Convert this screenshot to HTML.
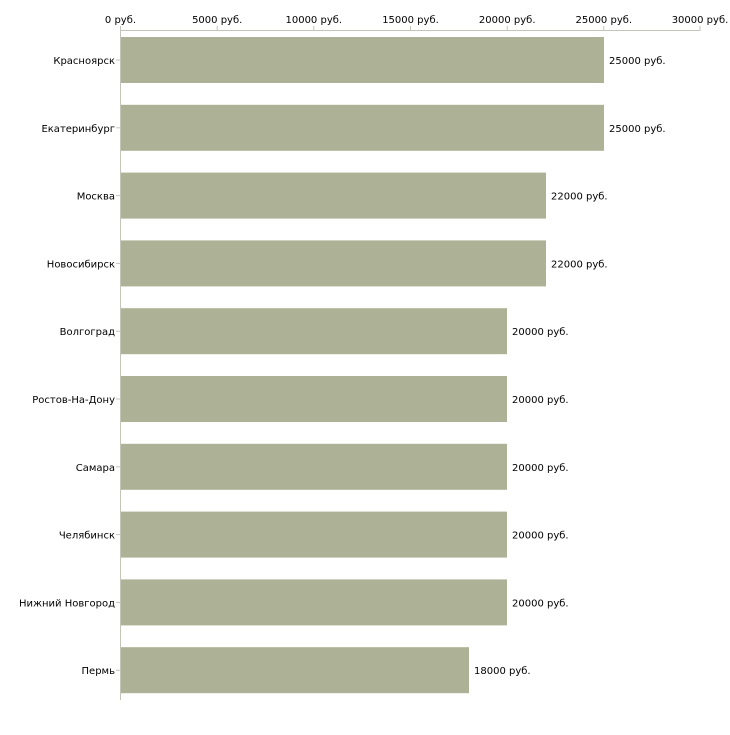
<!DOCTYPE html>
<html><head><meta charset="utf-8"><style>body{margin:0;background:#fff}</style></head><body>
<svg width="730" height="730" xmlns="http://www.w3.org/2000/svg" font-family="DejaVu Sans, sans-serif" font-size="10" fill="#000">
<line x1="120.5" y1="30.5" x2="700" y2="30.5" stroke="#c4c4b8"/>
<line x1="120.5" y1="30" x2="120.5" y2="700" stroke="#c4c4b8"/>
<g stroke="#c4c4b8">
<line x1="120.5" y1="26" x2="120.5" y2="31"/><line x1="217.2" y1="26" x2="217.2" y2="31"/><line x1="313.8" y1="26" x2="313.8" y2="31"/><line x1="410.5" y1="26" x2="410.5" y2="31"/><line x1="507.2" y1="26" x2="507.2" y2="31"/><line x1="603.8" y1="26" x2="603.8" y2="31"/><line x1="700" y1="26" x2="700" y2="31"/>
</g>
<g text-anchor="middle">
<text x="120.5" y="23">0 руб.</text><text x="217.2" y="23">5000 руб.</text><text x="313.8" y="23">10000 руб.</text><text x="410.5" y="23">15000 руб.</text><text x="507.2" y="23">20000 руб.</text><text x="603.8" y="23">25000 руб.</text><text x="700" y="23">30000 руб.</text>
</g>
<g fill="#adb296">
<rect x="121" y="37" width="483" height="46"/>
<rect x="121" y="104.8" width="483" height="46"/>
<rect x="121" y="172.6" width="425" height="46"/>
<rect x="121" y="240.4" width="425" height="46"/>
<rect x="121" y="308.2" width="386" height="46"/>
<rect x="121" y="376" width="386" height="46"/>
<rect x="121" y="443.8" width="386" height="46"/>
<rect x="121" y="511.6" width="386" height="46"/>
<rect x="121" y="579.4" width="386" height="46"/>
<rect x="121" y="647.2" width="348" height="46"/>
</g>
<g stroke="#c4c4b8">
<line x1="116" y1="60" x2="121" y2="60"/><line x1="116" y1="127.8" x2="121" y2="127.8"/><line x1="116" y1="195.6" x2="121" y2="195.6"/><line x1="116" y1="263.4" x2="121" y2="263.4"/><line x1="116" y1="331.2" x2="121" y2="331.2"/><line x1="116" y1="399" x2="121" y2="399"/><line x1="116" y1="466.8" x2="121" y2="466.8"/><line x1="116" y1="534.6" x2="121" y2="534.6"/><line x1="116" y1="602.4" x2="121" y2="602.4"/><line x1="116" y1="670.2" x2="121" y2="670.2"/>
</g>
<g text-anchor="end">
<text x="115" y="64">Красноярск</text><text x="115" y="131.8">Екатеринбург</text><text x="115" y="199.6">Москва</text><text x="115" y="267.4">Новосибирск</text><text x="115" y="335.2">Волгоград</text><text x="115" y="403">Ростов-На-Дону</text><text x="115" y="470.8">Самара</text><text x="115" y="538.6">Челябинск</text><text x="115" y="606.4">Нижний Новгород</text><text x="115" y="674.2">Пермь</text>
</g>
<g>
<text x="609" y="64">25000 руб.</text><text x="609" y="131.8">25000 руб.</text><text x="551" y="199.6">22000 руб.</text><text x="551" y="267.4">22000 руб.</text><text x="512" y="335.2">20000 руб.</text><text x="512" y="403">20000 руб.</text><text x="512" y="470.8">20000 руб.</text><text x="512" y="538.6">20000 руб.</text><text x="512" y="606.4">20000 руб.</text><text x="474" y="674.2">18000 руб.</text>
</g>
</svg>
</body></html>
